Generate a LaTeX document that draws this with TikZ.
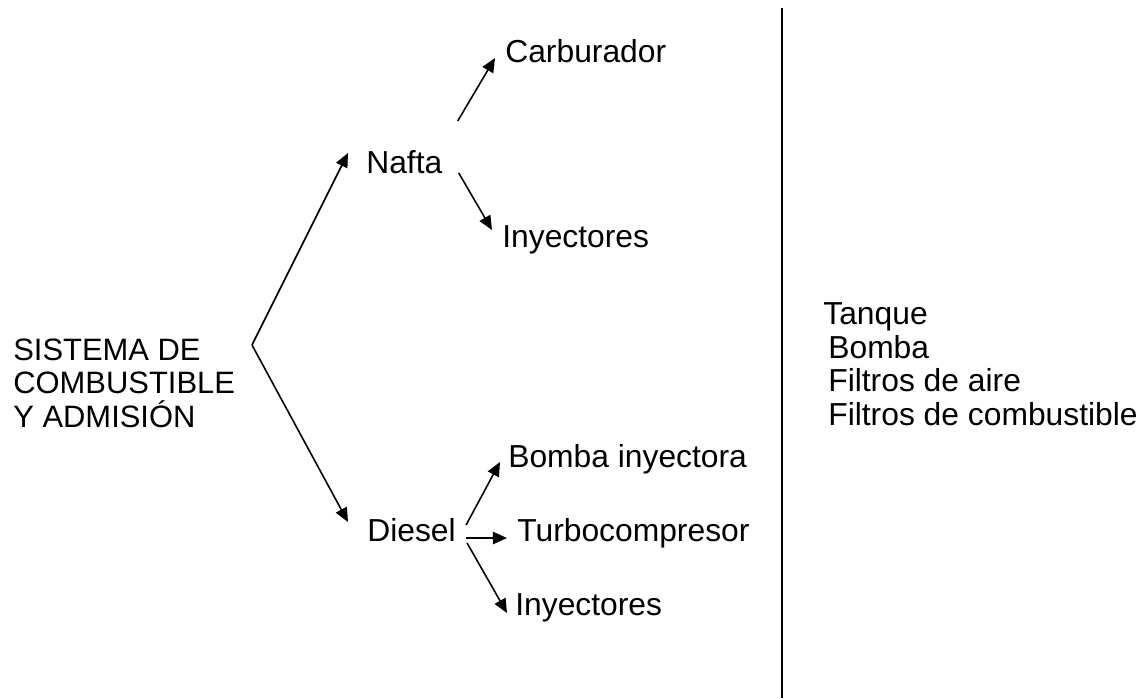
\documentclass[tikz,border=0pt]{standalone}
\usepackage{fontspec}
\setmainfont{Liberation Sans}
\usepackage{tikz}
\usetikzlibrary{arrows.meta}
\tikzset{etq/.style={anchor=base west, inner sep=0pt, align=left,
    font=\fontsize{18.1}{19}\selectfont},
  flecha/.style={line width=0.9pt, -{Triangle[length=8pt, width=7pt]}}}

\begin{document}
\begin{tikzpicture}[x=0.02cm, y=-0.02cm]
            \useasboundingbox (0, 0) rectangle (1147, 698);
            % the base of a multi-line node is its last line
            \node [etq, font=\fontsize{17.6}{19}\selectfont] (sistema) at (13, 427) {SISTEMA DE\\COMBUSTIBLE\\Y ADMISIÓN};
            \coordinate (rama) at (252, 345);
            \node [etq] (nafta) at (366, 173) {Nafta};
            \node [etq] (carb) at (505, 62) {Carburador};
            \node [etq] (inyn) at (502, 247) {Inyectores};
            \node [etq] (diesel) at (367, 541) {Diesel};
            \node [etq] (bomba) at (508, 467) {Bomba inyectora};
            \node [etq] (turbo) at (517, 541) {Turbocompresor};
            \node [etq] (inyd) at (515, 615) {Inyectores};
            \node [etq] (lista) at (823, 425) {Tanque\\
                \hspace*{0.1cm}Bomba\\
                \hspace*{0.1cm}Filtros de aire\\
                \hspace*{0.1cm}Filtros de combustible};
            % tronco
            \draw [flecha] (rama) -- ([shift={(-18, -20)}]nafta.base west);
            \draw [flecha] (rama) -- ([shift={(-19, -19)}]diesel.base west);
            % nafta
            \draw [flecha] ([shift={(15, -52)}]nafta.base east) -- ([shift={(-10, -4)}]carb.base west);
            \draw [flecha] ([shift={(16, 0)}]nafta.base east) -- ([shift={(-10, -17)}]inyn.base west);
            % diesel
            \draw [flecha] ([shift={(10, -16)}]diesel.base east) -- ([shift={(-8, -5)}]bomba.base west);
            \draw [flecha] ([shift={(10, -3)}]diesel.base east) -- ([shift={(-10, -3)}]turbo.base west);
            \draw [flecha] ([shift={(11, 2)}]diesel.base east) -- ([shift={(-8, -2)}]inyd.base west);
            % separador
            \coordinate (sep1) at (782, 8);
            \coordinate (sep2) at (782, 698);
            \draw [line width=0.9pt] (sep1) -- (sep2);
        \end{tikzpicture}
\end{document}
